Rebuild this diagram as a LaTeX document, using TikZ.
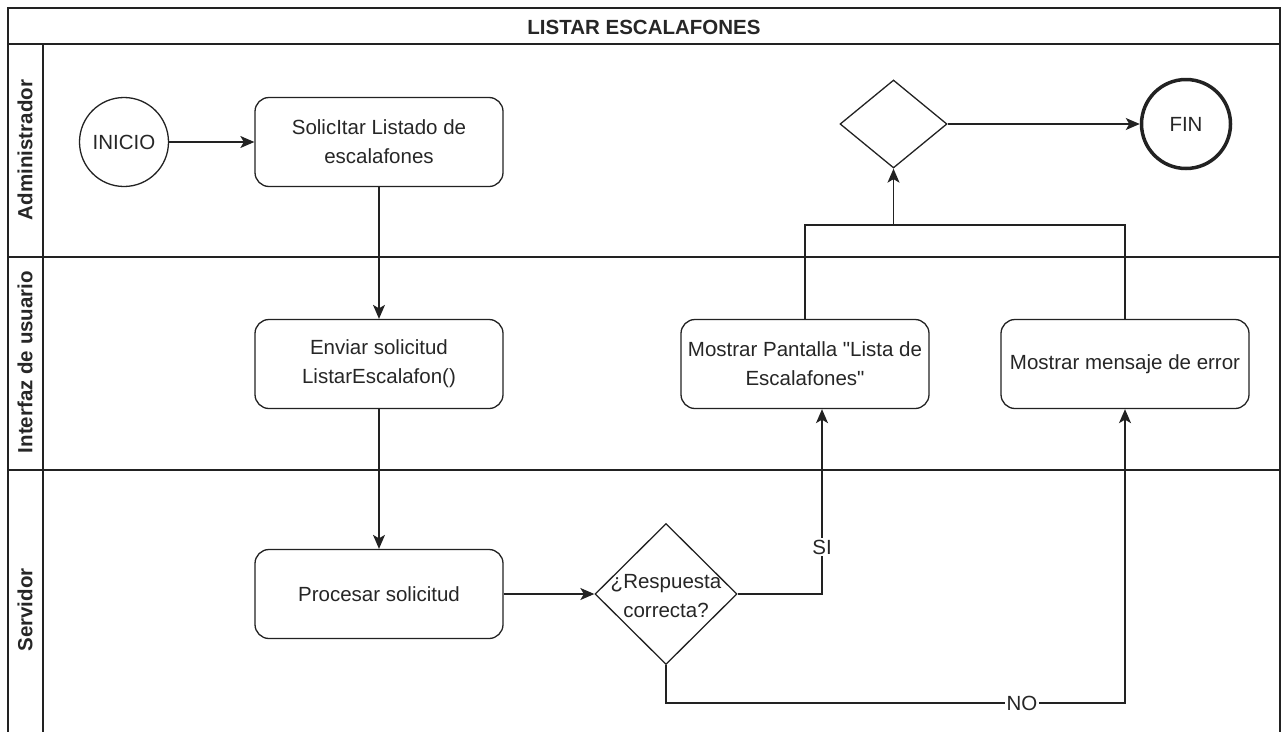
\documentclass[tikz,border=0pt]{standalone}
\usepackage{fontspec}
\setmainfont{Liberation Sans}
\usetikzlibrary{shapes.geometric,arrows.meta,calc}
\definecolor{linec}{HTML}{222222}
\definecolor{txtc}{HTML}{262626}
\begin{document}
\begin{tikzpicture}[x=1pt,y=-1pt,
  every node/.style={text=txtc},
  lane/.style={draw=linec, line width=1.4pt},
  line/.style={draw=linec, line width=1.3pt},
  flow/.style={line, -{Stealth[length=14pt,width=12pt,inset=3.5pt]}},
  bodyfont/.style={font=\fontsize{20.5}{29}\selectfont},
  headfont/.style={font=\fontsize{20.5}{29}\selectfont\bfseries},
  task/.style={line, rounded corners=14pt, minimum width=248pt, minimum height=89pt,
    align=center, inner sep=2pt, bodyfont},
  event/.style={line, circle, minimum size=89pt, inner sep=0pt, bodyfont},
  gate/.style={line, diamond, inner sep=0pt},
  lbl/.style={fill=white, inner sep=1.5pt, bodyfont}
]
\useasboundingbox (0,0) rectangle (1281,731);
\clip (0,0) rectangle (1281,731);

% pool frame, title bar and lanes
\draw[lane] (8,8) rectangle (1280,760);
\draw[lane] (8,44) -- (1280,44);
\draw[lane] (8,257) -- (1280,257);
\draw[lane] (8,470) -- (1280,470);
\draw[lane] (43,44) -- (43,760);
\node[headfont] (title) at (644,27) {LISTAR ESCALAFONES};
\node[headfont, rotate=90] (laneA) at (25,150) {Administrador};
\node[headfont, rotate=90] (laneB) at (25,362) {Interfaz de usuario};
\node[headfont, rotate=90] (laneC) at (25,610) {Servidor};

% activities
\node[event] (inicio) at (124,142) {INICIO};
\node[task] (solicitar) at (379,142) {SolicItar Listado de\\escalafones};
\node[task] (enviar) at (379,364) {Enviar solicitud\\ListarEscalafon()};
\node[task] (procesar) at (379,594) {Procesar solicitud};
\node[gate, minimum width=142pt, minimum height=141pt] (dec) at (666,594) {};
\node[align=center, bodyfont, inner sep=0pt] (dectext) at (666,596) {¿Respuesta\\correcta?};
\node[task] (pantalla) at (805,364) {Mostrar Pantalla \textquotedbl Lista de\\Escalafones\textquotedbl};
\node[task] (error) at (1125,364) {Mostrar mensaje de error};
\node[gate, minimum width=107pt, minimum height=88pt] (join) at (893.5,124) {};
\node[event, line width=3.5pt] (fin) at (1186,124) {FIN};

% flow
\draw[flow] (inicio) -- (solicitar);
\draw[flow] (solicitar) -- (enviar);
\draw[flow] (enviar) -- (procesar);
\draw[flow] (procesar) -- (dec);
\coordinate (siend) at ($(pantalla.south)+(17,0)$);
\draw[flow] (dec.east) -| (siend);
\node[lbl] (si) at (822,547) {SI};
\coordinate (nobase) at (1125,703);
\draw[flow] (dec.south) |- (nobase) -- (error.south);
\node[lbl] (no) at (1022,703) {NO};
\coordinate (merge) at (893.5,225);
\draw[line] (pantalla.north) |- (merge) -| (error.north);
\draw[flow] (merge) -- (join.south);
\draw[flow] (join.east) -- (fin);
\end{tikzpicture}
\end{document}
